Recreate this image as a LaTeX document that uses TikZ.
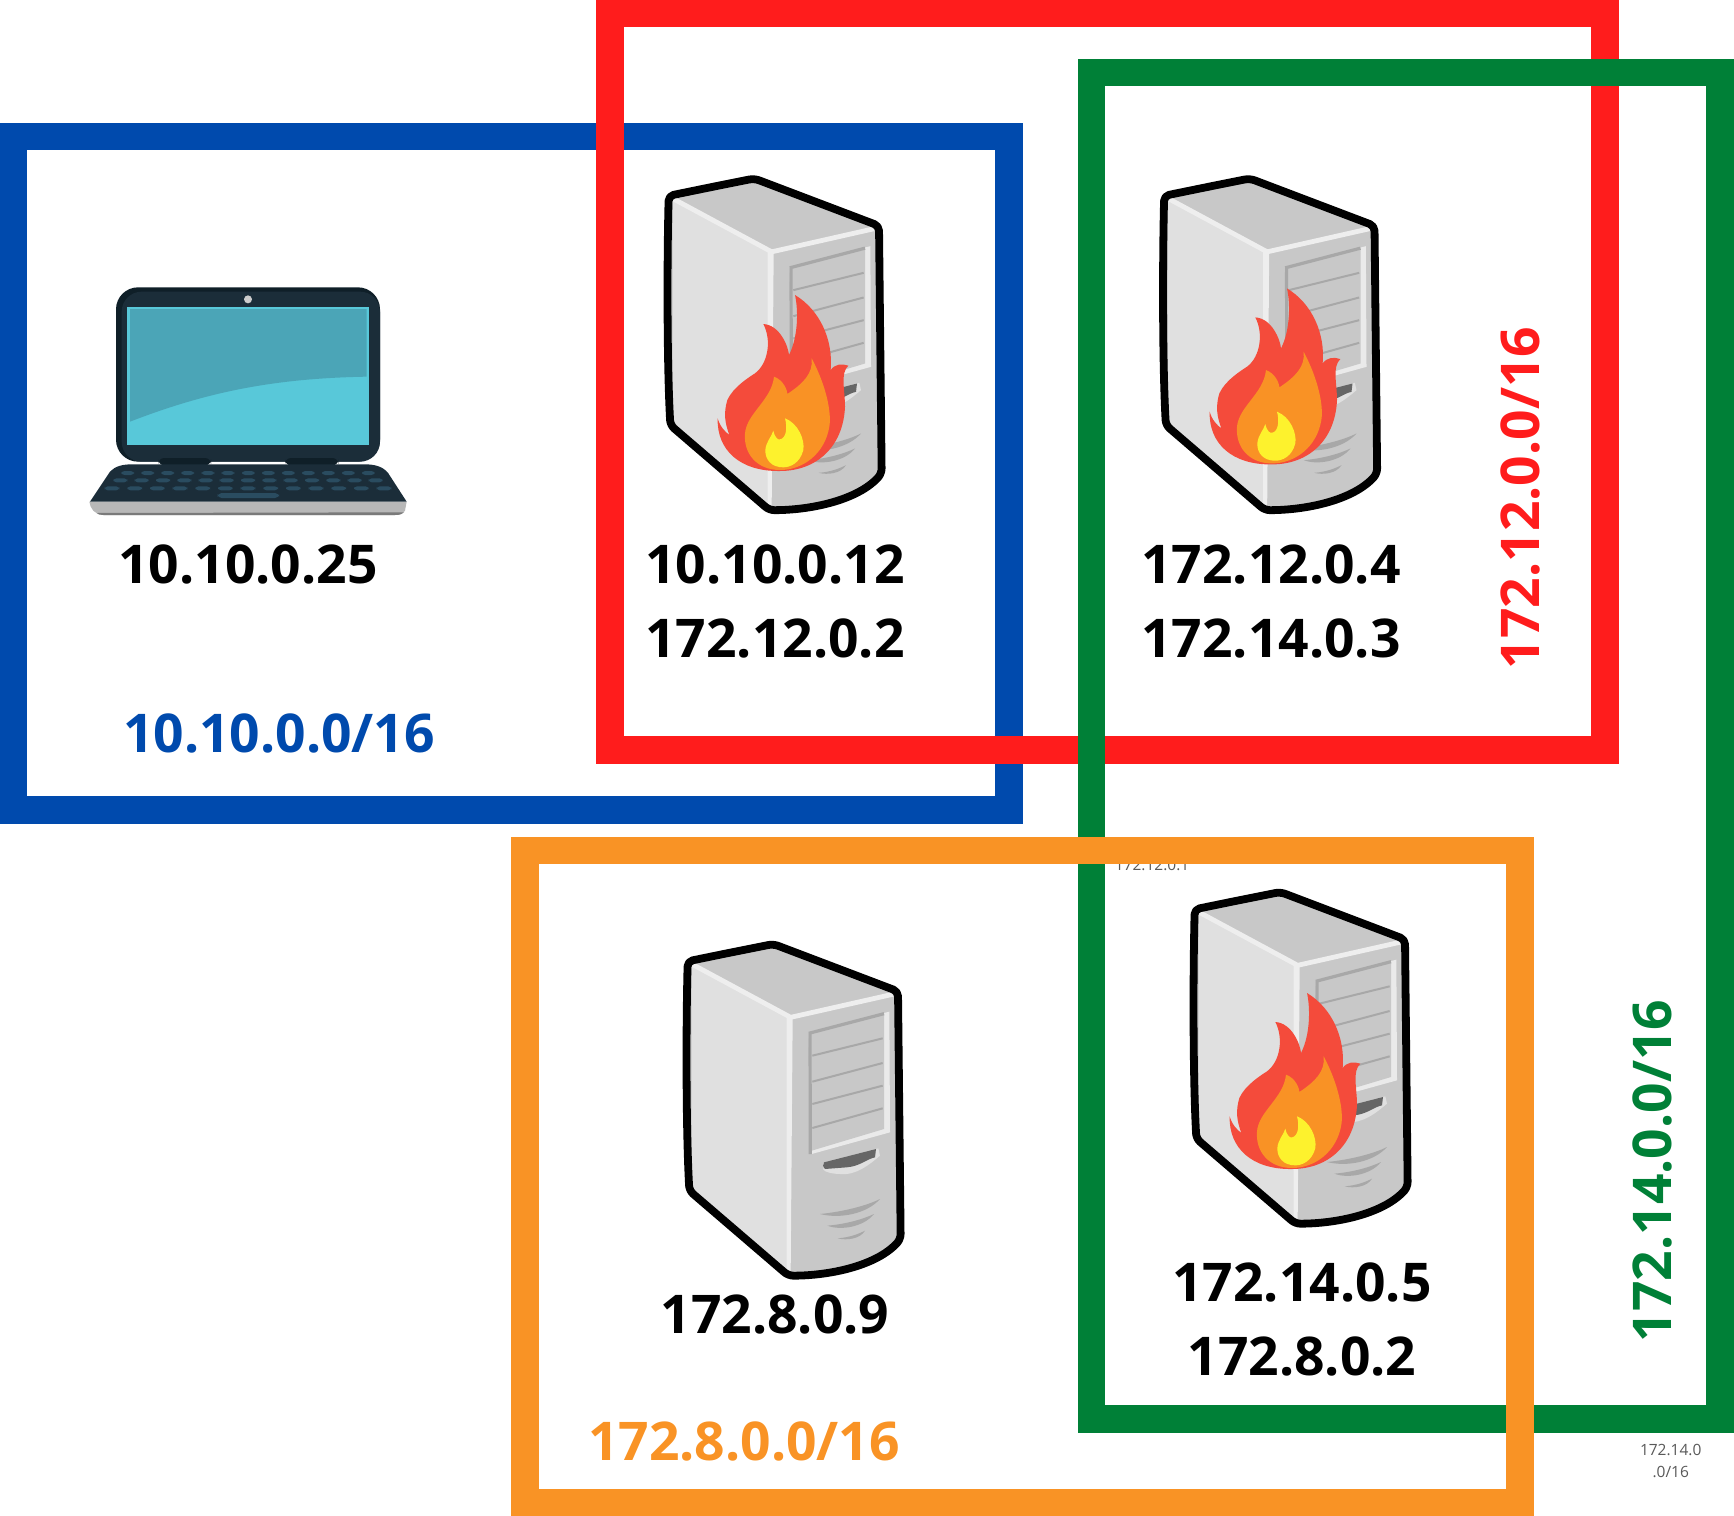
\documentclass[tikz,border=0pt]{standalone}
\usepackage{fontspec}
\setmainfont{Open Sans}
\definecolor{netblue}{HTML}{004AAD}
\definecolor{netred}{HTML}{FF1C1C}
\definecolor{netgreen}{HTML}{008037}
\definecolor{netorange}{HTML}{F99325}
\definecolor{lapdark}{HTML}{1B2D39}
\definecolor{lapedge}{HTML}{0F1F28}
\definecolor{lapkey}{HTML}{2A4C60}
\definecolor{scrlight}{HTML}{58C8D9}
\definecolor{scrdark}{HTML}{4BA5B7}
\definecolor{srvtop}{HTML}{C8C8C8}
\definecolor{srvleft}{HTML}{E0E0E0}
\definecolor{srvedge}{HTML}{EEEEEE}
\definecolor{srvline}{HTML}{A8A8A8}
\definecolor{flamered}{HTML}{F44B3B}
\definecolor{flameorange}{HTML}{F99225}
\definecolor{flameyellow}{HTML}{FDF22D}
\tikzset{
  netbox/.style={draw=#1,line width=13.8pt,miter limit=10,fill=none},
  addr/.style={anchor=base,inner sep=0pt,font=\fontsize{26.7}{30}\selectfont\bfseries,text=black},
  netlabel/.style={anchor=base,inner sep=0pt,font=\fontsize{26.7}{30}\selectfont\bfseries,text=#1},
  tiny/.style={anchor=base,inner sep=0pt,font=\fontsize{7.75}{10}\selectfont,text=black!65},
  serverbox/.pic={
    \begin{scope}[scale=1/3]
      \fill[srvtop,rounded corners=2.5pt] (180,71) -- (310,45) -- (682,187) -- (690,930)
        .. controls (620,1010) and (480,1040) .. (355,1040) -- (60,785)
        .. controls (50,600) and (50,300) .. (55,97) -- cycle;
      \fill[srvleft] (65,105) -- (362,265) -- (358,1030) -- (65,785) -- cycle;
      \fill[srvedge] (350,262) -- (368,268) -- (362,1030) -- (350,1025) -- cycle;
      \draw[srvedge,line width=2.4pt,line join=round] (65,105) -- (362,265) -- (672,195);
      \fill[srvedge!90!srvtop] (415,310) -- (658,248) -- (660,610) -- (425,675) -- cycle;
      \fill[srvtop] (421,312) -- (642,258) -- (642,600) -- (425,665) -- cycle;
      \draw[srvline,line width=1.6pt] (421,675) -- (420,312) -- (642,254);
      \draw[srvline,line width=1pt] (427,380) -- (638,328) (427,458) -- (638,402)
        (427,525) -- (638,470) (427,597) -- (638,538);
      \fill[srvleft] (460,702) .. controls (500,690) and (580,670) .. (625,658)
        -- (630,680) .. controls (600,705) and (560,740) .. (510,735)
        .. controls (490,735) and (465,730) .. (460,722) -- cycle;
      \fill[black!60] (462,700) -- (618,660) -- (615,685)
        .. controls (590,690) and (570,712) .. (530,715) -- (465,720)
        .. controls (458,712) and (458,708) .. cycle;
      \fill[srvline] (450,855) .. controls (520,848) and (590,830) .. (630,810)
        .. controls (590,855) and (510,870) .. cycle;
      \fill[srvline] (472,890) .. controls (530,885) and (580,870) .. (612,855)
        .. controls (580,895) and (510,905) .. cycle;
      \fill[srvline] (503,928) .. controls (540,925) and (565,915) .. (585,905)
        .. controls (570,930) and (530,935) .. cycle;
      \draw[black,line width=3.9pt,line join=round,rounded corners=2.5pt] (180,71) -- (310,45) -- (684,187) -- (692,930)
        .. controls (620,1010) and (480,1040) .. (355,1040) -- (58,785)
        .. controls (48,600) and (48,300) .. (53,97) -- cycle;
    \end{scope}
  },
  flameicon/.pic={
    \begin{scope}[scale=1/3]
      \fill[flamered] (233,775) .. controls (240,800) and (255,815) .. (268,825)
        .. controls (255,790) and (250,760) .. (262,720)
        .. controls (280,680) and (330,650) .. (345,640)
        .. controls (385,610) and (395,540) .. (370,492)
        .. controls (420,495) and (445,560) .. (447,585)
        .. controls (475,530) and (475,450) .. (465,405)
        .. controls (540,450) and (580,540) .. (572,630)
        .. controls (585,612) and (605,610) .. (625,617)
        .. controls (600,640) and (615,690) .. (615,740)
        .. controls (610,860) and (530,933) .. (420,933)
        .. controls (300,935) and (230,870) .. cycle;
      \fill[flameorange] (515,595) .. controls (560,680) and (575,760) .. (568,800)
        .. controls (555,880) and (490,930) .. (420,930)
        .. controls (350,930) and (310,880) .. (315,820)
        .. controls (320,760) and (395,720) .. (402,650)
        .. controls (430,660) and (442,690) .. (442,702)
        .. controls (490,670) and (520,640) .. cycle;
      \fill[flameyellow] (435,775) .. controls (475,790) and (495,840) .. (490,870)
        .. controls (480,910) and (450,922) .. (430,922)
        .. controls (395,922) and (375,900) .. (376,870)
        .. controls (378,845) and (395,830) .. (400,812)
        .. controls (405,835) and (415,840) .. (420,838)
        .. controls (440,835) and (442,800) .. cycle;
    \end{scope}
  },
  laptopicon/.pic={
    \begin{scope}[scale=1/3]
      \fill[lapedge,rounded corners=11pt] (138,52) rectangle (930,575);
      \fill[lapdark,rounded corners=10pt] (155,65) rectangle (930,575);
      \fill[scrlight] (172,110) rectangle (898,526);
      \fill[scrdark] (180,117) -- (890,117) -- (890,320)
        .. controls (600,325) and (400,370) .. (180,455) -- cycle;
      \fill[black!20] (534,88) circle (12);
      \fill[lapedge,rounded corners=3pt] (265,564) rectangle (423,586);
      \fill[lapedge,rounded corners=3pt] (645,564) rectangle (805,586);
      \fill[black!28] (58,695) -- (1010,695) -- (1005,722)
        .. controls (1000,730) and (990,735) .. (975,735) -- (100,735)
        .. controls (75,735) and (60,715) .. cycle;
      \fill[black!52] (80,729) .. controls (85,733) and (90,735) .. (100,735) -- (975,735)
        .. controls (990,735) and (998,732) .. (1002,727) -- cycle;
      \fill[lapdark] (60,695) -- (120,605) .. controls (135,588) and (160,583) .. (185,583)
        -- (885,583) .. controls (915,583) and (940,590) .. (955,610) -- (1010,695) -- cycle;
      \foreach \k in {173,233,293,353,414,474,535,595,655,715,775,835,895}
        \fill[lapkey,rounded corners=1.6pt] (\k-19,603) rectangle (\k+19,615);
      \foreach \k in {151,215,279,343,407,470,534,598,662,726,790,854,917}
        \fill[lapkey,rounded corners=1.6pt] (\k-21,625) rectangle (\k+21,637);
      \foreach \k in {126,194,262,330,398,466,534,602,670,738,806,874,942}
        \fill[lapkey,rounded corners=1.6pt] (\k-22,649) rectangle (\k+22,661);
      \fill[lapkey,rounded corners=2pt] (443,669) rectangle (627,684);
    \end{scope}
  }
}
\begin{document}
\begin{tikzpicture}[x=0.5pt,y=-0.5pt]
\useasboundingbox (0,0) rectangle (1734,1515);
\fill[white] (0,0) rectangle (1734,1515);
\draw[netbox=netblue] (13.6,136.6) rectangle (1009,810);
\draw[netbox=netred] (610,13.5) rectangle (1605,750);
\draw[netbox=netgreen] (1091.5,72.5) rectangle (1720,1419);
\node[tiny] (gw) at (1152,870) {172.12.0.1};
\draw[netbox=netorange] (525,850.5) rectangle (1520,1502.5);
\node[tiny] (g14a) at (1670.7,1455) {172.14.0};
\node[tiny] (g14b) at (1670.7,1477) {.0/16};
\path (70,270) pic {laptopicon};
\path (651,163.5) pic {serverbox};
\path (640,160) pic {flameicon};
\path (1146.5,163.5) pic {serverbox};
\path (1132,153.4) pic {flameicon};
\path (1177,877) pic {serverbox};
\path (1152,858) pic {flameicon};
\path (670,929) pic {serverbox};
\node[addr] (a1) at (248,583) {10.10.0.25};
\node[addr] (a2) at (775,583) {10.10.0.12};
\node[addr] (a3) at (775,657) {172.12.0.2};
\node[addr] (a4) at (1271,583) {172.12.0.4};
\node[addr] (a5) at (1271,657) {172.14.0.3};
\node[addr] (a6) at (775,1333) {172.8.0.9};
\node[addr] (a7) at (1302,1301) {172.14.0.5};
\node[addr] (a8) at (1302,1375) {172.8.0.2};
\node[netlabel=netblue] (l1) at (279,752) {10.10.0.0/16};
\node[netlabel=netorange] (l2) at (744,1460) {172.8.0.0/16};
\node[netlabel=netred,rotate=90] (l3) at (1539,498) {172.12.0.0/16};
\node[netlabel=netgreen,rotate=90] (l4) at (1671,1171) {172.14.0.0/16};
\end{tikzpicture}
\end{document}
